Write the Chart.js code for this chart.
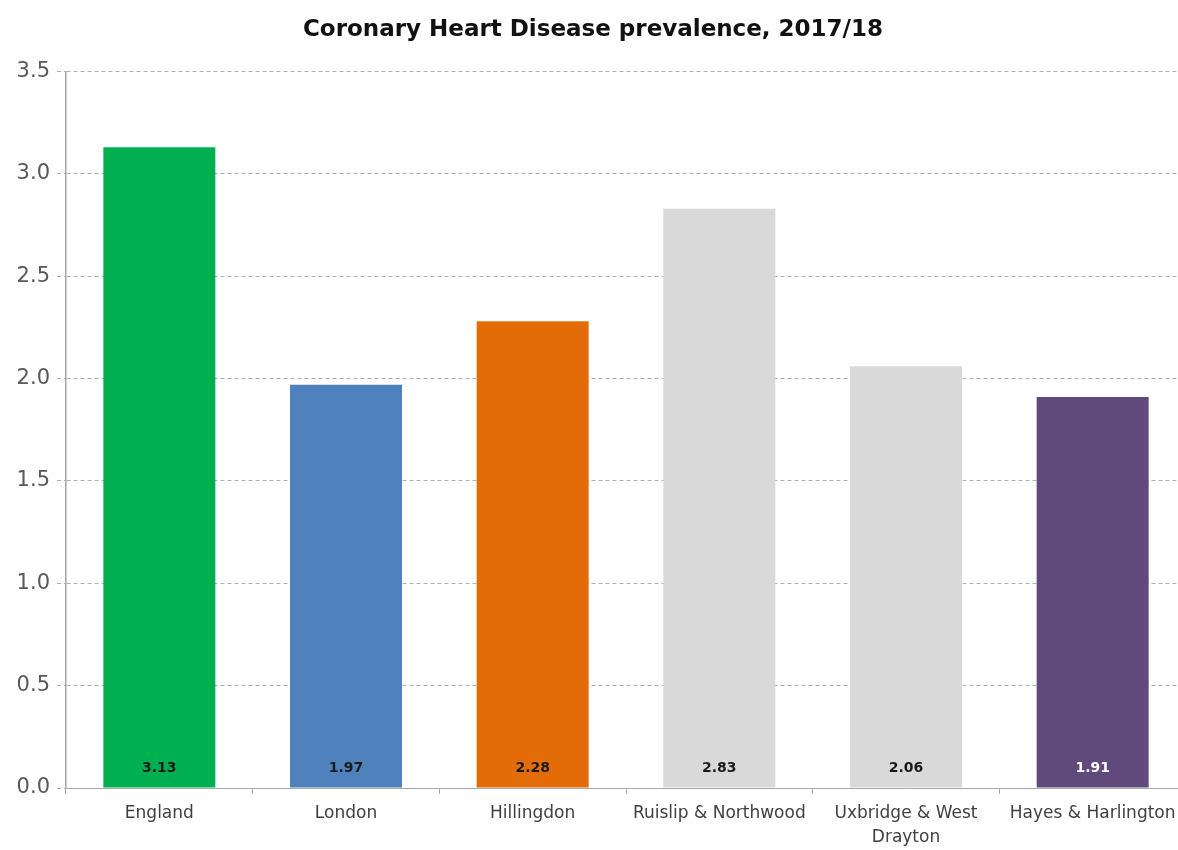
<!DOCTYPE html>
<html>
<head>
<meta charset="utf-8">
<script src="https://cdn.jsdelivr.net/npm/chart.js@4"></script>
<style>
    html, body { margin: 0; padding: 0; background: #fff; overflow: hidden; }
    #wrap { width: 1186px; height: 850px; }
</style>
</head>
<body>
<div id="wrap"><canvas id="chd-chart"></canvas></div>
<script>
const areas = ["England", "London", "Hillingdon", "Ruislip & Northwood", ["Uxbridge & West", "Drayton"], "Hayes & Harlington"];
const prevalence = [3.13, 1.97, 2.28, 2.83, 2.06, 1.91];
const barColours = ["#00b050", "#4f81bd", "#e36c09", "#d9d9d9", "#d9d9d9", "#604a7b"];
const labelColours = ["#1a1a1a", "#1a1a1a", "#1a1a1a", "#1a1a1a", "#1a1a1a", "#ffffff"];
const yTicks = [0, 0.5, 1.0, 1.5, 2.0, 2.5, 3.0, 3.5];

const fontFamily = "'DejaVu Sans', Verdana, sans-serif";

// values written at the foot of each bar
const baseLabels = {
    id: "baseLabels",
    afterDatasetsDraw(chart) {
        const ctx = chart.ctx;
        const yZero = chart.scales.y.getPixelForValue(0);
        chart.getDatasetMeta(0).data.forEach((bar, i) => {
            ctx.save();
            ctx.font = "bold 14px " + fontFamily;
            ctx.fillStyle = labelColours[i];
            ctx.textAlign = "center";
            ctx.textBaseline = "middle";
            ctx.fillText(prevalence[i].toFixed(2), bar.x, yZero - 20);
            ctx.restore();
        });
    }
};

new Chart(document.getElementById("chd-chart").getContext("2d"), {
    type: "bar",
    plugins: [baseLabels],
    data: {
        labels: areas,
        datasets: [{
            data: prevalence,
            backgroundColor: barColours,
            borderWidth: 0,
            barPercentage: 0.6,
            categoryPercentage: 1.0
        }]
    },
    options: {
        responsive: true,
        maintainAspectRatio: false,
        animation: false,
        layout: {padding: 0},
        plugins: {
            legend: {display: false},
            tooltip: {enabled: false},
            title: {
                display: true,
                text: "Coronary Heart Disease prevalence, 2017/18",
                color: "#111",
                font: {family: fontFamily, size: 23, weight: "bold"},
                padding: {top: 16, bottom: 28}
            }
        },
        scales: {
            x: {
                offset: true,
                grid: {
                    offset: true,
                    drawOnChartArea: false,
                    drawTicks: true,
                    tickLength: 6,
                    color: "#aaa"
                },
                border: {display: true, color: "#aaa", width: 1},
                ticks: {
                    color: "#404040",
                    font: {family: fontFamily, size: 17, lineHeight: 1.45},
                    padding: 7,
                    maxRotation: 0,
                    autoSkip: false
                },
                afterFit: scale => { scale.height = 62; }
            },
            y: {
                min: 0,
                max: 3.5,
                afterBuildTicks: scale => { scale.ticks = yTicks.map(v => ({value: v})); },
                grid: {
                    color: "#b0b0b0",
                    tickLength: 9,
                    tickBorderDash: [4, 3]
                },
                border: {display: true, color: "#a6a6a6", width: 1.5, dash: [4, 3]},
                ticks: {
                    color: "#595959",
                    font: {family: fontFamily, size: 21},
                    padding: 7,
                    callback: v => Number(v).toFixed(1)
                },
                afterFit: scale => { scale.width = 66; }
            }
        }
    }
});
</script>
</body>
</html>
